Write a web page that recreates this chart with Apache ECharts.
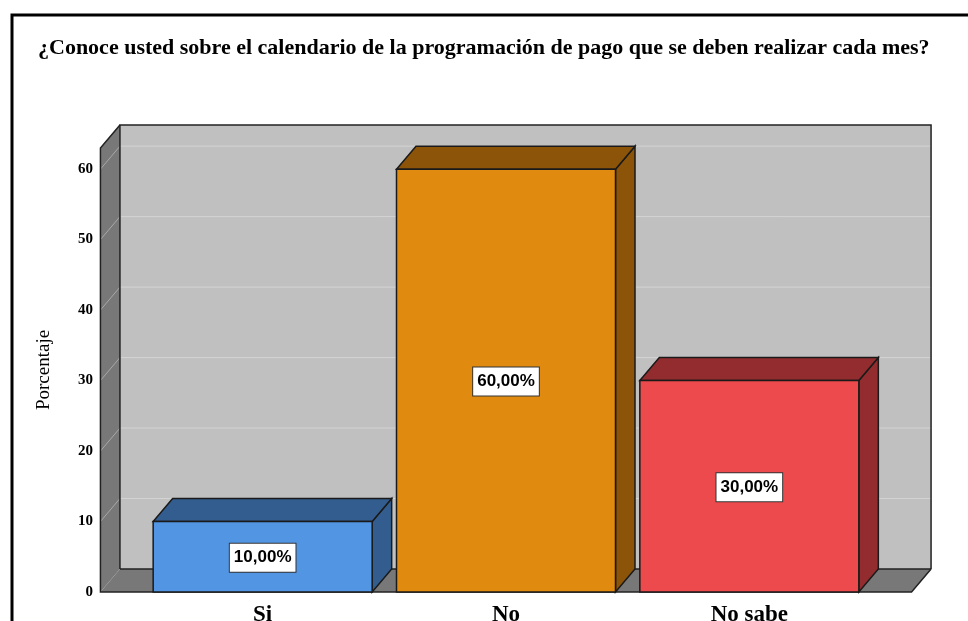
<!DOCTYPE html>
<html lang="es">
<head>
    <meta charset="UTF-8">
    <title>Calendario de pagos</title>
    <script src="https://cdn.jsdelivr.net/npm/echarts@6/dist/echarts.min.js"></script>
    <style>
        html, body { margin: 0; padding: 0; background: #fff; }
        #main { width: 968px; height: 621px; }
    </style>
</head>
<body>
<div id="main"></div>

<script type="text/javascript">
    // datos
    var categories = ['Si', 'No', 'No sabe'];
    var values = [10, 60, 30];
    var yTicks = [0, 10, 20, 30, 40, 50, 60];

    // colores: cara frontal y cara lateral/superior
    var frontColors = ['#5295E3', '#E08A10', '#EC4A4C'];
    var darkColors = ['#345D8F', '#8B5409', '#922C2F'];

    var DX = 19.5, DY = -23;   // profundidad del efecto 3D

    function fmt(v) {
        return v.toFixed(2).replace('.', ',') + '%';
    }

    var myChart = echarts.init(document.getElementById('main'));

    // paredes, piso y lineas de cuadricula
    function renderFrame(params, api) {
        var cs = params.coordSys;
        var pad = api.size([1, 0])[0] / 6;
        var x0 = cs.x - pad, x1 = cs.x + cs.width + pad;
        var yb = cs.y + cs.height, yt = cs.y;
        var edge = {stroke: '#222', lineWidth: 1.5, fill: null};
        var kids = [
            {type: 'rect', shape: {x: x0 + DX, y: yt + DY, width: x1 - x0, height: yb - yt}, style: {fill: '#C0C0C0'}},
            {type: 'polygon', shape: {points: [[x0, yb], [x0, yt], [x0 + DX, yt + DY], [x0 + DX, yb + DY]]}, style: {fill: '#787878'}},
            {type: 'polygon', shape: {points: [[x0, yb], [x1, yb], [x1 + DX, yb + DY], [x0 + DX, yb + DY]]}, style: {fill: '#787878'}}
        ];
        yTicks.forEach(function (t) {
            if (t === 0) return;
            var y = api.coord([0, t])[1];
            kids.push({type: 'line', shape: {x1: x0 + DX, y1: y + DY, x2: x1 + DX, y2: y + DY}, style: {stroke: '#D4D4D4', lineWidth: 1}});
            kids.push({type: 'line', shape: {x1: x0, y1: y, x2: x0 + DX, y2: y + DY}, style: {stroke: '#A8A8A8', lineWidth: 1}});
        });
        kids.push({type: 'polyline', shape: {points: [[x0 + DX, yb + DY], [x0 + DX, yt + DY], [x1 + DX, yt + DY], [x1 + DX, yb + DY]]}, style: edge});
        kids.push({type: 'polyline', shape: {points: [[x0 + DX, yb + DY], [x1 + DX, yb + DY]]}, style: edge});
        kids.push({type: 'polyline', shape: {points: [[x0 + DX, yt + DY], [x0, yt], [x0, yb], [x1, yb], [x1 + DX, yb + DY]]}, style: edge});
        return {type: 'group', children: kids};
    }

    // barras 3D
    function renderBar(params, api) {
        var i = api.value(0), v = api.value(1);
        var top = api.coord([i, v]);
        var base = api.coord([i, 0]);
        var w = api.size([1, 0])[0] * 0.9;
        var xl = top[0] - w / 2, xr = top[0] + w / 2;
        var yT = top[1], yB = base[1];
        var line = {stroke: '#1a1a1a', lineWidth: 1.5};
        return {
            type: 'group',
            children: [
                {type: 'polygon', shape: {points: [[xr, yT], [xr + DX, yT + DY], [xr + DX, yB + DY], [xr, yB]]},
                    style: Object.assign({fill: darkColors[i]}, line)},
                {type: 'polygon', shape: {points: [[xl, yT], [xr, yT], [xr + DX, yT + DY], [xl + DX, yT + DY]]},
                    style: Object.assign({fill: darkColors[i]}, line)},
                {type: 'rect', shape: {x: xl, y: yT, width: w, height: yB - yT},
                    style: Object.assign({fill: frontColors[i]}, line)},
                {type: 'text', x: top[0], y: (yT + yB) / 2 + 1,
                    style: {
                        text: fmt(v), fill: '#000', align: 'center', verticalAlign: 'middle',
                        font: 'bold 17px "Liberation Sans"',
                        backgroundColor: '#fff', borderColor: '#333', borderWidth: 1, padding: [6, 4, 5, 4]
                    }}
            ]
        };
    }

    var option = {
        backgroundColor: '#ffffff',
        animation: false,
        title: {
            text: '¿Conoce usted sobre el calendario de la programación de pago que se deben realizar cada mes?',
            left: 33,
            top: 32,
            textStyle: {
                fontFamily: 'Liberation Serif',
                fontWeight: 'bold',
                fontSize: 22,
                color: '#000'
            }
        },
        graphic: [{
            type: 'rect',
            shape: {x: 12, y: 15, width: 1000, height: 700},
            style: {fill: null, stroke: '#000', lineWidth: 3},
            silent: true
        }],
        grid: {left: 141, right: 97, top: 148, bottom: 29, outerBoundsMode: 'none'},
        xAxis: {
            type: 'category',
            data: categories,
            axisLine: {show: false},
            axisTick: {show: false},
            splitLine: {show: false},
            axisLabel: {
                margin: 12,
                color: '#000',
                fontFamily: 'Liberation Serif',
                fontWeight: 'bold',
                fontSize: 23
            }
        },
        yAxis: {
            type: 'value',
            min: 0,
            max: 63,
            interval: 10,
            offset: 41,
            name: 'Porcentaje',
            nameLocation: 'middle',
            nameGap: 46,
            nameTextStyle: {
                color: '#000',
                fontFamily: 'Liberation Serif',
                fontSize: 19
            },
            axisLine: {show: false},
            axisTick: {show: false},
            splitLine: {show: false},
            axisLabel: {
                showMaxLabel: false,
                margin: 7,
                color: '#000',
                fontFamily: 'Liberation Serif',
                fontWeight: 'bold',
                fontSize: 15
            }
        },
        series: [{
            type: 'custom',
            name: 'marco',
            z: 1,
            silent: true,
            renderItem: renderFrame,
            data: [[0, 0]]
        }, {
            type: 'custom',
            name: 'Porcentaje',
            z: 2,
            renderItem: renderBar,
            encode: {x: 0, y: 1},
            data: values.map(function (v, i) { return [i, v]; })
        }]
    };

    myChart.setOption(option);
</script>
</body>
</html>
